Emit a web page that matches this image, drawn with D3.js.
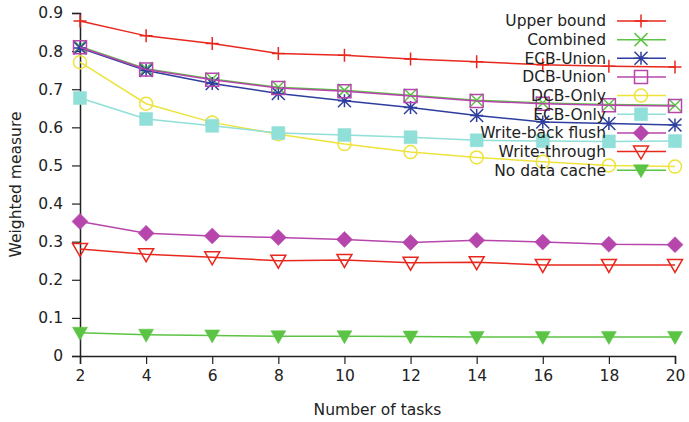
<!DOCTYPE html>
<html>
<head>
<meta charset="utf-8">
<script src="https://cdn.jsdelivr.net/npm/d3@7"></script>
<style>
  body { margin: 0; background: #fff; }
  text { font-family: "DejaVu Sans", sans-serif; fill: #222; }
</style>
</head>
<body>
<svg></svg>
<script>
// data
var tasks = [2, 4, 6, 8, 10, 12, 14, 16, 18, 20];
var yTicks = [0, 0.1, 0.2, 0.3, 0.4, 0.5, 0.6, 0.7, 0.8, 0.9];

var upperBound = [0.879, 0.840, 0.820, 0.794, 0.789, 0.779, 0.772, 0.764, 0.760, 0.758];
var combined = [0.812, 0.754, 0.727, 0.705, 0.697, 0.684, 0.671, 0.664, 0.660, 0.658];
var ecbUnion = [0.808, 0.749, 0.715, 0.689, 0.670, 0.652, 0.631, 0.614, 0.610, 0.606];
var dcbUnion = [0.810, 0.752, 0.725, 0.703, 0.695, 0.682, 0.669, 0.662, 0.658, 0.656];
var dcbOnly = [0.771, 0.662, 0.613, 0.582, 0.556, 0.535, 0.521, 0.510, 0.500, 0.497];
var ecbOnly = [0.677, 0.622, 0.604, 0.585, 0.580, 0.574, 0.566, 0.564, 0.563, 0.564];
var writeBack = [0.353, 0.322, 0.315, 0.311, 0.306, 0.298, 0.304, 0.299, 0.293, 0.292];
var writeThrough = [0.281, 0.267, 0.259, 0.250, 0.252, 0.245, 0.246, 0.239, 0.239, 0.239];
var noCache = [0.061, 0.056, 0.054, 0.052, 0.052, 0.051, 0.050, 0.050, 0.050, 0.050];

var seriesNames = ["Upper bound", "Combined", "ECB-Union", "DCB-Union", "DCB-Only",
  "ECB-Only", "Write-back flush", "Write-through", "No data cache"];
var seriesValues = [upperBound, combined, ecbUnion, dcbUnion, dcbOnly,
  ecbOnly, writeBack, writeThrough, noCache];
var seriesColors = ["#e8281e", "#5cc444", "#2d3e9e", "#b746ac", "#ede33a",
  "#90dfd8", "#b746ac", "#e8281e", "#5cc444"];
var seriesMarkers = ["plus", "cross", "star", "openSquare", "openCircle",
  "square", "diamond", "openTriDown", "triDown"];

window.onload = function() {
  var width = 689;
  var height = 422;

  var svg = d3.select("svg")
    .attr("width", width)
    .attr("height", height);

  var margin = { top: 13, right: 14, bottom: 66, left: 80 };
  var plotW = width - margin.left - margin.right;
  var plotH = height - margin.top - margin.bottom;

  var x = d3.scaleLinear().domain([2, 20]).range([0, plotW]);
  var y = d3.scaleLinear().domain([0, 0.9]).range([plotH, 0]);

  var g = svg.append("g")
    .attr("transform", "translate(" + margin.left + "," + margin.top + ")");

  // axes: only left and bottom, ticks pointing out
  var xAxis = g.append("g")
    .attr("transform", "translate(0," + plotH + ")")
    .call(d3.axisBottom(x).tickValues(tasks).tickSize(8).tickPadding(6).tickFormat(d3.format("d")));
  var yAxis = g.append("g")
    .call(d3.axisLeft(y).tickValues(yTicks).tickSize(8).tickPadding(9)
      .tickFormat(function(d) { return d === 0 ? "0" : d3.format(".1f")(d); }));

  [xAxis, yAxis].forEach(function(ax) {
    ax.select(".domain").attr("stroke", "#222").attr("stroke-width", 1.5);
    ax.selectAll(".tick line").attr("stroke", "#222").attr("stroke-width", 1.2);
    ax.selectAll(".tick text").style("font-size", "15.5px").attr("fill", "#222");
  });

  // axis titles
  svg.append("text")
    .attr("x", margin.left + plotW / 2)
    .attr("y", 415)
    .attr("text-anchor", "middle")
    .style("font-size", "15.5px")
    .text("Number of tasks");

  svg.append("text")
    .attr("transform", "translate(21," + (margin.top + plotH / 2) + ") rotate(-90)")
    .attr("text-anchor", "middle")
    .style("font-size", "15.5px")
    .text("Weighted measure");

  // marker shapes, centred on 0,0
  function markerPath(type) {
    var s = 6.5;
    switch (type) {
      case "plus": return "M" + -s + ",0H" + s + "M0," + -s + "V" + s;
      case "cross": return "M" + -s + "," + -s + "L" + s + "," + s + "M" + -s + "," + s + "L" + s + "," + -s;
      case "star": return "M" + -s + ",0H" + s + "M0," + -s + "V" + s +
        "M" + -s + "," + -s + "L" + s + "," + s + "M" + -s + "," + s + "L" + s + "," + -s;
      case "openSquare":
      case "square": return "M" + -s + "," + -s + "H" + s + "V" + s + "H" + -s + "Z";
      case "openCircle": return "M" + s + ",0A" + s + "," + s + " 0 1,1 " + -s + ",0A" + s + "," + s + " 0 1,1 " + s + ",0Z";
      case "diamond": return "M0," + -(s + 1.5) + "L" + (s + 1.5) + ",0L0," + (s + 1.5) + "L" + -(s + 1.5) + ",0Z";
      case "openTriDown":
      case "triDown": return "M" + -(s + 1) + "," + (-s + 1) + "H" + (s + 1) + "L0," + (s + 1) + "Z";
    }
  }
  function isFilled(type) {
    return type === "square" || type === "diamond" || type === "triDown";
  }

  var line = d3.line()
    .x(function(d) { return x(d.t); })
    .y(function(d) { return y(d.v); });

  seriesNames.forEach(function(name, i) {
    var pts = tasks.map(function(t, j) { return { t: t, v: seriesValues[i][j] }; });
    var color = seriesColors[i];
    var type = seriesMarkers[i];
    var sg = g.append("g");

    sg.append("path")
      .datum(pts)
      .attr("d", line)
      .attr("fill", "none")
      .attr("stroke", color)
      .attr("stroke-width", 1.5);

    sg.selectAll("path.mark")
      .data(pts)
      .enter()
      .append("path")
      .attr("class", "mark")
      .attr("transform", function(d) { return "translate(" + x(d.t) + "," + y(d.v) + ")"; })
      .attr("d", markerPath(type))
      .attr("fill", isFilled(type) ? color : "none")
      .attr("stroke", color)
      .attr("stroke-width", isFilled(type) ? 0.5 : 1.5);
  });

  // legend, top right
  var legend = svg.append("g").attr("transform", "translate(606,21)");
  seriesNames.forEach(function(name, i) {
    var row = legend.append("g").attr("transform", "translate(0," + (i * 18.65) + ")");
    var type = seriesMarkers[i];
    row.append("text")
      .attr("x", 0)
      .attr("dy", "0.35em")
      .attr("text-anchor", "end")
      .style("font-size", "15.5px")
      .text(name);
    row.append("line")
      .attr("x1", 11).attr("x2", 60)
      .attr("stroke", seriesColors[i])
      .attr("stroke-width", 1.5);
    row.append("path")
      .attr("transform", "translate(35,0)")
      .attr("d", markerPath(type))
      .attr("fill", isFilled(type) ? seriesColors[i] : "none")
      .attr("stroke", seriesColors[i])
      .attr("stroke-width", isFilled(type) ? 0.5 : 1.5);
  });
};
</script>
</body>
</html>
